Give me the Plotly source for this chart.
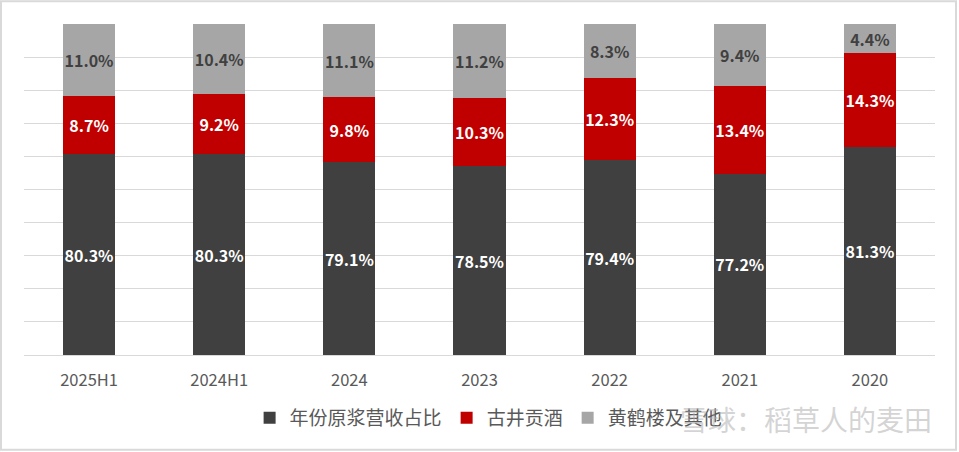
import plotly.graph_objects as go

categories = ["2025H1", "2024H1", "2024", "2023", "2022", "2021", "2020"]

# segment heights as drawn in the reference (share of bar, %)
share_yearly = [60.6, 60.6, 58.2, 57.1, 58.9, 54.7, 62.7]
share_gujing = [17.5, 18.4, 19.6, 20.4, 24.7, 26.5, 28.4]
share_other = [21.9, 21.0, 22.2, 22.5, 16.4, 18.8, 8.9]

# label values printed in the reference
label_yearly = [80.3, 80.3, 79.1, 78.5, 79.4, 77.2, 81.3]
label_gujing = [8.7, 9.2, 9.8, 10.3, 12.3, 13.4, 14.3]
label_other = [11.0, 10.4, 11.1, 11.2, 8.3, 9.4, 4.4]

series_names = ["年份原浆营收占比", "古井贡酒", "黄鹤楼及其他"]
colors = ["#404040", "#C00000", "#A6A6A6"]
label_colors = ["#FFFFFF", "#FFFFFF", "#404040"]

FONT = "Noto Sans CJK SC"

fig = go.Figure()
for name, vals, labs, col, lcol in zip(
    series_names,
    [share_yearly, share_gujing, share_other],
    [label_yearly, label_gujing, label_other],
    colors,
    label_colors,
):
    fig.add_trace(
        go.Bar(
            name=name,
            x=categories,
            y=vals,
            marker=dict(color=col, line=dict(width=0)),
            text=[f"{v:.1f}%" for v in labs],
            textposition="inside",
            insidetextanchor="middle",
            textangle=0,
            textfont=dict(family=FONT, size=16, color=lcol, weight="bold"),
        )
    )

fig.update_layout(
    barmode="stack",
    bargap=0.6,
    width=959,
    height=452,
    margin=dict(l=24, r=24, t=24, b=97),
    paper_bgcolor="white",
    plot_bgcolor="white",
    font=dict(family=FONT, color="#595959"),
    uniformtext=dict(minsize=16, mode="show"),
    showlegend=True,
    legend=dict(
        orientation="h",
        x=0.51,
        xanchor="center",
        y=-0.19,
        yanchor="middle",
        font=dict(family=FONT, size=19, color="#595959"),
        itemwidth=30,
        traceorder="normal",
    ),
    xaxis=dict(
        showgrid=False,
        showline=True,
        linecolor="#D9D9D9",
        linewidth=1.3,
        ticks="",
        ticklabelstandoff=10,
        tickfont=dict(family=FONT, size=16.5, color="#595959"),
        fixedrange=True,
    ),
    yaxis=dict(
        range=[0, 100],
        dtick=10,
        showgrid=True,
        gridcolor="#D9D9D9",
        gridwidth=1.3,
        showticklabels=False,
        zeroline=False,
        fixedrange=True,
    ),
    shapes=[
        dict(
            type="rect",
            xref="paper",
            yref="paper",
            x0=-23 / 911,
            x1=(956 - 24) / 911,
            y0=(354.7 - 449.5) / 331,
            y1=(354.7 - 1) / 331,
            line=dict(color="#D9D9D9", width=2),
            layer="above",
        )
    ],
    annotations=[
        dict(
            text="雪球：稻草人的麦田",
            xref="paper",
            yref="paper",
            x=(806 - 24) / 911,
            y=(354.7 - 419) / 331,
            xanchor="center",
            yanchor="middle",
            showarrow=False,
            font=dict(family=FONT, size=28, color="rgba(170,170,170,0.5)"),
        )
    ],
)

fig.write_html(
    "out.html",
    config={"displayModeBar": False},
    post_script="document.body.style.margin='0';document.body.style.overflow='hidden';",
)
